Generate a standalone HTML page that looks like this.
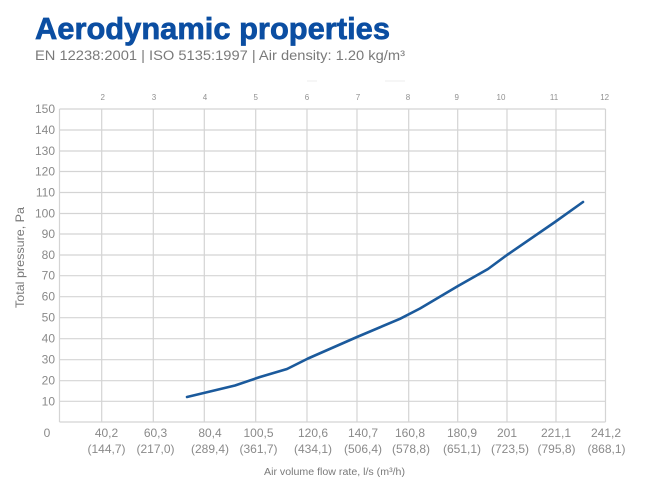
<!DOCTYPE html>
<html><head><meta charset="utf-8"><style>
html,body{margin:0;padding:0;background:#fff;}
svg{display:block;}
text{font-family:"Liberation Sans",sans-serif;}
</style></head><body>
<svg width="646" height="490" viewBox="0 0 646 490" xmlns="http://www.w3.org/2000/svg">
<rect width="646" height="490" fill="#fff"/>
<text x="35" y="39" font-size="31" font-weight="bold" fill="#0b4ea2" stroke="#0b4ea2" stroke-width="0.7" textLength="355" lengthAdjust="spacingAndGlyphs">Aerodynamic properties</text>
<text x="35" y="60" font-size="13.5" fill="#7a7a7a" textLength="370" lengthAdjust="spacingAndGlyphs">EN 12238:2001  |  ISO 5135:1997  |  Air density: 1.20 kg/m³</text>
<g stroke="#ececec" stroke-width="1" fill="none">
<line x1="307" y1="81" x2="317" y2="81"/><line x1="385" y1="81" x2="405" y2="81"/>
</g>
<g stroke="#d4d4d4" stroke-width="1.2">
<line x1="59.5" y1="109" x2="605.5" y2="109"/>
<line x1="59.5" y1="130" x2="605.5" y2="130"/>
<line x1="59.5" y1="151" x2="605.5" y2="151"/>
<line x1="59.5" y1="171.5" x2="605.5" y2="171.5"/>
<line x1="59.5" y1="192.5" x2="605.5" y2="192.5"/>
<line x1="59.5" y1="213.5" x2="605.5" y2="213.5"/>
<line x1="59.5" y1="234" x2="605.5" y2="234"/>
<line x1="59.5" y1="255" x2="605.5" y2="255"/>
<line x1="59.5" y1="275.7" x2="605.5" y2="275.7"/>
<line x1="59.5" y1="296.7" x2="605.5" y2="296.7"/>
<line x1="59.5" y1="317.7" x2="605.5" y2="317.7"/>
<line x1="59.5" y1="338.7" x2="605.5" y2="338.7"/>
<line x1="59.5" y1="359.7" x2="605.5" y2="359.7"/>
<line x1="59.5" y1="380.7" x2="605.5" y2="380.7"/>
<line x1="59.5" y1="401.3" x2="605.5" y2="401.3"/>
<line x1="59.5" y1="422" x2="605.5" y2="422"/>
<line x1="59.5" y1="109" x2="59.5" y2="422"/>
<line x1="101.7" y1="109" x2="101.7" y2="422"/>
<line x1="153.3" y1="109" x2="153.3" y2="422"/>
<line x1="204.3" y1="109" x2="204.3" y2="422"/>
<line x1="255.7" y1="109" x2="255.7" y2="422"/>
<line x1="307" y1="109" x2="307" y2="422"/>
<line x1="357" y1="109" x2="357" y2="422"/>
<line x1="408.7" y1="109" x2="408.7" y2="422"/>
<line x1="457.7" y1="109" x2="457.7" y2="422"/>
<line x1="507" y1="109" x2="507" y2="422"/>
<line x1="556" y1="109" x2="556" y2="422"/>
<line x1="605.5" y1="109" x2="605.5" y2="422"/>
</g>
<g font-size="12" fill="#8a8a8a" text-anchor="end">
<text x="55" y="113">150</text>
<text x="55" y="134">140</text>
<text x="55" y="155">130</text>
<text x="55" y="175.5">120</text>
<text x="55" y="196.5">110</text>
<text x="55" y="217.5">100</text>
<text x="55" y="238">90</text>
<text x="55" y="259">80</text>
<text x="55" y="279.7">70</text>
<text x="55" y="300.7">60</text>
<text x="55" y="321.7">50</text>
<text x="55" y="342.7">40</text>
<text x="55" y="363.7">30</text>
<text x="55" y="384.7">20</text>
<text x="55" y="405.3">10</text>
</g>
<g font-size="12" fill="#8a8a8a" text-anchor="middle">
<text x="47" y="437">0</text>
<text x="106.5" y="437">40,2</text><text x="106.5" y="453">(144,7)</text>
<text x="155.5" y="437">60,3</text><text x="155.5" y="453">(217,0)</text>
<text x="210" y="437">80,4</text><text x="210" y="453">(289,4)</text>
<text x="258.5" y="437">100,5</text><text x="258.5" y="453">(361,7)</text>
<text x="313" y="437">120,6</text><text x="313" y="453">(434,1)</text>
<text x="363" y="437">140,7</text><text x="363" y="453">(506,4)</text>
<text x="410" y="437">160,8</text><text x="411" y="453">(578,8)</text>
<text x="462" y="437">180,9</text><text x="462" y="453">(651,1)</text>
<text x="507" y="437">201</text><text x="510" y="453">(723,5)</text>
<text x="556" y="437">221,1</text><text x="556.5" y="453">(795,8)</text>
<text x="606" y="437">241,2</text><text x="606.5" y="453">(868,1)</text>
</g>
<g font-size="8" fill="#909090" text-anchor="middle">
<text x="102.7" y="100">2</text>
<text x="154" y="100">3</text>
<text x="205" y="100">4</text>
<text x="255.7" y="100">5</text>
<text x="307" y="100">6</text>
<text x="358" y="100">7</text>
<text x="408" y="100">8</text>
<text x="456.7" y="100">9</text>
<text x="501" y="100">10</text>
<text x="554" y="100">11</text>
<text x="604.7" y="100">12</text>
</g>
<text x="264" y="475" font-size="10" fill="#7a7a7a" textLength="141" lengthAdjust="spacingAndGlyphs">Air volume flow rate, l/s (m³/h)</text>
<text transform="translate(24,257.5) rotate(-90)" font-size="12" fill="#7a7a7a" text-anchor="middle" textLength="101" lengthAdjust="spacingAndGlyphs">Total pressure, Pa</text>
<polyline fill="none" stroke="#1b5a9c" stroke-width="2.6" stroke-linejoin="round" stroke-linecap="round"
points="187,397 210,391.5 235,385.5 260,377 287,369 308,358.5 357,337 400,318.8 420,308.5 458,286 488,269 507,255 555,222 583,202"/>
</svg>
</body></html>
